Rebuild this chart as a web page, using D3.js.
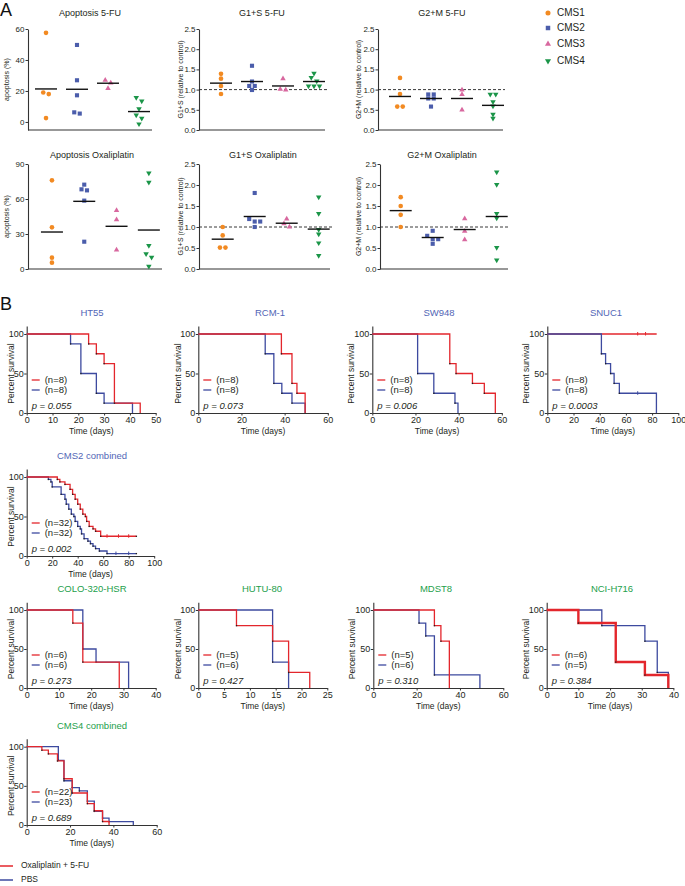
<!DOCTYPE html>
<html><head><meta charset="utf-8">
<script src="https://cdn.jsdelivr.net/npm/d3@7"></script>
<style>
body{margin:0;background:#fff;}
svg{display:block;font-family:"Liberation Sans",Arial,sans-serif;}
</style></head><body>
<svg id="c" width="685" height="886"></svg>
<script>
// ================= DATA : panel A =================
const groups = ["CMS1","CMS2","CMS3","CMS4"];
const apop5FU      = [[57.5,19,18,2.5],[49.7,26.9,17.2,5.4,6.2],[26.9,21.7,25.2],[15.7,13.5,8.4,4.5,2.4,-1.3]];
const apop5FUMean  = [21.3,21.1,25,6.7];
const g1s5FU       = [[1.39,1.27,1.09,0.89],[1.59,1.2,1.09,1.09,0.99],[1.27,1.01,0.99],[1.40,1.30,1.21,1.09,1.09,1.09]];
const g1s5FUMean   = [1.16,1.2,1.09,1.2];
const g2m5FU       = [[1.29,0.89,0.58,0.58],[0.88,0.78,0.78,0.88,0.58],[0.99,0.88,0.50],[0.88,0.88,0.70,0.59,0.39,0.29]];
const g2m5FUMean   = [0.83,0.78,0.78,0.61];
const apopOx       = [[76,35.7,9.7,5.4],[72.3,67.4,68.3,58.6,23.4],[50.3,42.3,16.3],[82.3,74.3,20,12.9,10,2.3]];
const apopOxMean   = [31.7,58,36.6,33.4];
const g1sOx        = [[1.0,0.80,0.51,0.51],[1.81,1.19,1.13,1.13,1.0],[1.19,1.08,1.0],[1.71,1.32,0.94,0.83,0.62,0.32]];
const g1sOxMean    = [0.71,1.25,1.09,0.95];
const g2mOx        = [[1.71,1.50,1.29,1.0],[0.91,0.79,0.71,0.71,0.6],[1.20,0.90,0.70],[2.31,2.01,1.32,1.21,0.51,0.21]];
const g2mOxMean    = [1.39,0.75,0.94,1.25];
const apop5FUTicks = [0,20,40,60];
const apopOxTicks  = [0,30,60,90];
const ratioTicks   = [0,0.5,1,1.5,2,2.5];

// ================= DATA : panel B (Kaplan-Meier) =================
// t = day of each step, s = percent survival from that day on
const ht55Red_t=[0,24,27,30,34,44],            ht55Red_s=[100,87.5,75,62.5,12.5,0];
const ht55Blue_t=[0,17,21,27,30,41],           ht55Blue_s=[100,87.5,50,25,12.5,0];
const rcmRed_t=[0,38.5,43.4,45.7,49.5],        rcmRed_s=[100,75,37.5,25,0];
const rcmBlue_t=[0,31,35,38.7,43.4,49.5],      rcmBlue_s=[100,75,37.5,25,12.5,0];
const swRed_t=[0,35.9,38.8,46.4,51.9,57],      swRed_s=[100,62.5,50,37.5,25,0];
const swBlue_t=[0,21,28.5,38.3,39.7],          swBlue_s=[100,50,25,12.5,0];
const snucRed_t=[0,83.5],                       snucRed_s=[100,100];
const snucBlue_t=[0,41.3,44.5,48.3,51,55,83.3], snucBlue_s=[100,75,62.5,50,37.5,25,0];
const snucRedCensor=[69,75], snucBlueCensor=[69];
const cms2Red_t=[0,24,26,30,34,36,38,40,42,44,46,47,49,52,54,58,86];
const cms2Red_s=[100,96.9,93.8,90.6,84.4,78.1,71.9,65.6,59.4,53.1,50,43.8,37.5,34.4,31.3,25,25];
const cms2Blue_t=[0,17,19,20,27,30,31,33,35,37,38,40,42,43,45,48,50,52,54,57,63,86];
const cms2Blue_s=[100,96.9,93.8,87.5,78.1,71.9,65.6,59.4,53.1,50,43.8,37.5,34.4,28.1,21.9,18.8,15.6,12.5,9.4,6.3,3.1,3.1];
const cms2RedCensor=[63,72,80], cms2BlueCensor=[70,80];
const coloRed_t=[0,14.3,17.4,28.7],            coloRed_s=[100,83.3,33.3,0];
const coloBlue_t=[0,17.4,21.5,31.6],           coloBlue_s=[100,50,33.3,0];
const hutuRed_t=[0,7.4,14.4,17.5,21.6],        hutuRed_s=[100,80,60,20,0];
const hutuBlue_t=[0,14.4,17.5],                hutuBlue_s=[100,33.3,0];
const mdstRed_t=[0,28.2,31.2,35.1],            mdstRed_s=[100,80,60,0];
const mdstBlue_t=[0,21.1,24.2,28.2,49.2],      mdstBlue_s=[100,83.3,66.7,16.7,0];
const nciRed_t=[0,10,21.8,31,38.4],            nciRed_s=[100,83.3,33.3,16.7,0];
const nciBlue_t=[0,17.4,31,34.9,38.4],         nciBlue_s=[100,80,60,20,0];
const cms4Red_t=[0,7,10,14.2,17.2,21,28,31.2,35,38];
const cms4Red_s=[100,95.5,90.9,81.8,59.1,40.9,27.3,18.2,4.5,0];
const cms4Blue_t=[0,14.6,17.2,21,24.3,28,31.2,35,38,49.2];
const cms4Blue_s=[100,82.6,56.5,47.8,43.5,30.4,17.4,8.7,4.3,0];
const legendLabels=["Oxaliplatin + 5-FU","PBS"];

// ================= STYLE =================
const TXT="#231f20", AX="#333";
const groupColor={CMS1:"#f28a22",CMS2:"#4b5dab",CMS3:"#d8689f",CMS4:"#1b9548"};
const groupSym={CMS1:d3.symbolCircle,CMS2:d3.symbolSquare,CMS3:d3.symbolTriangle,CMS4:d3.symbolTriangle};
const symSize={CMS1:17,CMS2:17,CMS3:13,CMS4:13};
const RED="#e3262c", BLUE="#3d4a9f", TBLUE="#5266b6", TGREEN="#23a04b";

const svg=d3.select("#c");

function styleAxis(g,fs){
  g.select(".domain").attr("stroke",AX).attr("stroke-width",1.1);
  g.selectAll(".tick line").attr("stroke",AX).attr("stroke-width",1);
  g.selectAll(".tick text").attr("fill",TXT).attr("font-size",fs).attr("font-family","Liberation Sans, Arial, sans-serif");
}

function swarm(vals,y,spacing,thr){
  const items=vals.map((v,i)=>({v,py:y(v)})).sort((a,b)=>a.py-b.py);
  const clusters=[];let cur=null;
  for(const it of items){
    if(cur && it.py-cur[0].py<thr) cur.push(it); else {cur=[it];clusters.push(cur);}
  }
  clusters.forEach(c=>c.forEach((it,k)=>it.dx=(k-(c.length-1)/2)*spacing));
  return items;
}

function scatterPanel(p){
  const y=d3.scaleLinear().domain(p.domain).range([p.yBot,p.yTop]);
  const x=d3.scalePoint().domain(groups).range(p.catRange).padding(0.5);
  const g=svg.append("g");
  const ax=g.append("g").attr("transform",`translate(${p.x0},0)`)
    .call(d3.axisLeft(y).tickValues(p.ticks).tickFormat(p.fmt).tickSize(2.5).tickSizeOuter(0).tickPadding(1));
  styleAxis(ax,"8px");
  g.append("line").attr("x1",p.x0).attr("x2",p.x1).attr("y1",p.yBot).attr("y2",p.yBot)
    .attr("stroke",AX).attr("stroke-width",1.1);
  g.append("text").attr("x",p.titleX).attr("y",p.titleY).attr("text-anchor","middle")
    .attr("font-size","9px").attr("fill",TXT).text(p.title);
  g.append("text").attr("transform",`translate(${p.ylabX},${(p.yBot+p.yTop)/2}) rotate(-90)`)
    .attr("text-anchor","middle").attr("dominant-baseline","middle").attr("font-size","7px").attr("fill",TXT).text(p.ylabel);
  if(p.dashed!==undefined){
    g.append("line").attr("x1",p.x0).attr("x2",p.x1+2).attr("y1",y(p.dashed)).attr("y2",y(p.dashed))
      .attr("stroke","#222").attr("stroke-width",0.9).attr("stroke-dasharray","3,2");
  }
  groups.forEach((grp,gi)=>{
    const cx=x(grp);
    const pts=swarm(p.data[gi],y,5.5,4);
    const sym=d3.symbol().type(groupSym[grp]).size(symSize[grp]);
    g.selectAll(null).data(pts).enter().append("path")
      .attr("d",sym)
      .attr("transform",d=>`translate(${cx+d.dx},${d.py})`+(grp==="CMS4"?" rotate(180)":""))
      .attr("fill",groupColor[grp]);
    g.append("line").attr("x1",cx-11).attr("x2",cx+11).attr("y1",y(p.means[gi])).attr("y2",y(p.means[gi]))
      .attr("stroke","#111").attr("stroke-width",1.4);
  });
}

// Row 1
scatterPanel({x0:28,x1:152,yTop:29,yBot:130,domain:[-5.2,60],ticks:apop5FUTicks,fmt:d3.format("d"),
  catRange:[30.5,154.5],title:"Apoptosis 5-FU",titleX:90,titleY:16,ylabel:"apoptosis (%)",ylabX:7,
  data:apop5FU,means:apop5FUMean});
scatterPanel({x0:199,x1:325,yTop:29,yBot:130,domain:[0,2.5],ticks:ratioTicks,fmt:d3.format(".1f"),
  catRange:[205.5,329.5],title:"G1+S 5-FU",titleX:262,titleY:16,ylabel:"G1+S (relative to control)",ylabX:181,
  data:g1s5FU,means:g1s5FUMean,dashed:1});
scatterPanel({x0:378,x1:503,yTop:29,yBot:130,domain:[0,2.5],ticks:ratioTicks,fmt:d3.format(".1f"),
  catRange:[384.5,508.5],title:"G2+M 5-FU",titleX:442,titleY:16,ylabel:"G2+M (relative to control)",ylabX:359,
  data:g2m5FU,means:g2m5FUMean,dashed:1});
// Row 2
scatterPanel({x0:28,x1:162,yTop:164,yBot:269,domain:[0,90],ticks:apopOxTicks,fmt:d3.format("d"),
  catRange:[35.8,165],title:"Apoptosis Oxaliplatin",titleX:92,titleY:158,ylabel:"apoptosis (%)",ylabX:7,
  data:apopOx,means:apopOxMean});
scatterPanel({x0:199,x1:330,yTop:164,yBot:269,domain:[0,2.5],ticks:ratioTicks,fmt:d3.format(".1f"),
  catRange:[206.7,334.7],title:"G1+S Oxaliplatin",titleX:263,titleY:158,ylabel:"G1+S (relative to control)",ylabX:181,
  data:g1sOx,means:g1sOxMean,dashed:1});
scatterPanel({x0:380,x1:508,yTop:164,yBot:269,domain:[0,2.5],ticks:ratioTicks,fmt:d3.format(".1f"),
  catRange:[384.7,512.7],title:"G2+M Oxaliplatin",titleX:442,titleY:158,ylabel:"G2+M (relative to control)",ylabX:359,
  data:g2mOx,means:g2mOxMean,dashed:1});

// Legend A
const legA=svg.append("g");
groups.forEach((grp,i)=>{
  const yy=[13,28,44,61][i];
  legA.append("path").attr("d",d3.symbol().type(groupSym[grp]).size(symSize[grp]+3))
    .attr("transform",`translate(548,${yy})`+(grp==="CMS4"?" rotate(180)":"")).attr("fill",groupColor[grp]);
  legA.append("text").attr("x",557).attr("y",yy).attr("dominant-baseline","middle")
    .attr("font-size","10px").attr("fill",TXT).text(grp);
});

svg.append("text").attr("x",0).attr("y",16).attr("font-size","18px").attr("fill","#111").text("A");
svg.append("text").attr("x",0).attr("y",310).attr("font-size","18px").attr("fill","#111").text("B");

// ================= KM panels =================
function kmPanel(p){
  const h=p.yBot-p.y100;
  const x=d3.scaleLinear().domain([0,p.xmax]).range([p.x0,p.x0+p.w]);
  const y=d3.scaleLinear().domain([0,110]).range([p.yBot,p.yBot-1.1*h]);
  const g=svg.append("g");
  const ay=g.append("g").attr("transform",`translate(${p.x0},0)`)
    .call(d3.axisLeft(y).tickValues([0,50,100]).tickSize(2.5).tickSizeOuter(0).tickPadding(0.5));
  styleAxis(ay,"9px");
  const axx=g.append("g").attr("transform",`translate(0,${p.yBot})`)
    .call(d3.axisBottom(x).tickValues(p.xticks).tickSize(2.5).tickSizeOuter(0).tickPadding(1));
  styleAxis(axx,"9px");
  g.append("text").attr("x",p.titleX).attr("y",p.yBot-1.1*h-10).attr("text-anchor","middle")
    .attr("font-size","9.5px").attr("fill",p.titleColor).text(p.title);
  g.append("text").attr("transform",`translate(${p.ylabX},${p.yBot-0.5*h}) rotate(-90)`)
    .attr("text-anchor","middle").attr("dominant-baseline","middle").attr("font-size","8.5px").attr("fill",TXT).text("Percent survival");
  g.append("text").attr("x",p.x0+0.5*p.w).attr("y",p.yBot+21).attr("text-anchor","middle")
    .attr("font-size","8.5px").attr("fill",TXT).text("Time (days)");
  const line=d3.line().x(d=>x(d[0])).y(d=>y(d[1])).curve(d3.curveStepAfter);
  const curves=[
    {t:p.red_t,s:p.red_s,c:RED,w:p.redW||1.3,cens:p.redCens},
    {t:p.blue_t,s:p.blue_s,c:BLUE,w:1.3,cens:p.blueCens}];
  const order=p.blueOnTop?[0,1]:[1,0];
  order.forEach(i=>{
    const cv=curves[i];
    const pts=cv.t.map((t,k)=>[t,cv.s[k]]);
    g.append("path").attr("d",line(pts)).attr("fill","none").attr("stroke",cv.c).attr("stroke-width",cv.w);
    pts.slice(1).forEach(d=>{ if(d[1]>0 && d[1]<100)
      g.append("rect").attr("x",x(d[0])-0.6).attr("y",y(d[1])-0.6).attr("width",1.3).attr("height",1.3).attr("fill","#222");});
    (cv.cens||[]).forEach(t=>{
      const s=cv.s[d3.bisectRight(cv.t,t)-1];
      g.append("line").attr("x1",x(t)).attr("x2",x(t)).attr("y1",y(s)-2).attr("y2",y(s)+1.5)
        .attr("stroke",cv.c).attr("stroke-width",1);
    });
  });
  [[RED,p.nRed,-33],[BLUE,p.nBlue,-23]].forEach(([c,n,dy])=>{
    g.append("line").attr("x1",p.x0+5).attr("x2",p.x0+13).attr("y1",p.yBot+dy).attr("y2",p.yBot+dy)
      .attr("stroke",c).attr("stroke-width",1.3);
    g.append("text").attr("x",p.x0+18).attr("y",p.yBot+dy).attr("dominant-baseline","middle")
      .attr("font-size","9.5px").attr("fill",TXT).text(`(n=${n})`);
  });
  g.append("text").attr("x",p.x0+5).attr("y",p.yBot-4).attr("font-size","9.5px").attr("font-style","italic")
    .attr("fill",TXT).text(`p = ${p.pval}`);
}

const t10=[0,10,20,30,40,50], t20_60=[0,20,40,60], t20_100=[0,20,40,60,80,100], t10_40=[0,10,20,30,40], t5_25=[0,5,10,15,20,25];
kmPanel({x0:26.7,w:129,xmax:50,xticks:t10,yBot:413,y100:334,title:"HT55",titleX:92,titleColor:TBLUE,ylabX:12,
  red_t:ht55Red_t,red_s:ht55Red_s,blue_t:ht55Blue_t,blue_s:ht55Blue_s,nRed:8,nBlue:8,pval:"0.055"});
kmPanel({x0:198.3,w:129.5,xmax:60,xticks:t20_60,yBot:413,y100:334,title:"RCM-1",titleX:270,titleColor:TBLUE,ylabX:179,
  red_t:rcmRed_t,red_s:rcmRed_s,blue_t:rcmBlue_t,blue_s:rcmBlue_s,nRed:8,nBlue:8,pval:"0.073"});
kmPanel({x0:372.3,w:129.5,xmax:60,xticks:t20_60,yBot:413,y100:334,title:"SW948",titleX:439,titleColor:TBLUE,ylabX:352,
  red_t:swRed_t,red_s:swRed_s,blue_t:swBlue_t,blue_s:swBlue_s,nRed:8,nBlue:8,pval:"0.006"});
kmPanel({x0:547.3,w:131,xmax:100,xticks:t20_100,yBot:413,y100:334,title:"SNUC1",titleX:606,titleColor:TBLUE,ylabX:527,
  red_t:snucRed_t,red_s:snucRed_s,blue_t:snucBlue_t,blue_s:snucBlue_s,redCens:snucRedCensor,blueCens:snucBlueCensor,
  blueOnTop:true,nRed:8,nBlue:8,pval:"0.0003"});
kmPanel({x0:26.7,w:127.5,xmax:100,xticks:t20_100,yBot:556,y100:477,title:"CMS2 combined",titleX:92,titleColor:TBLUE,ylabX:12,
  red_t:cms2Red_t,red_s:cms2Red_s,blue_t:cms2Blue_t,blue_s:cms2Blue_s,redCens:cms2RedCensor,blueCens:cms2BlueCensor,
  nRed:32,nBlue:32,pval:"0.002"});
kmPanel({x0:26.7,w:129,xmax:40,xticks:t10_40,yBot:688,y100:610,title:"COLO-320-HSR",titleX:92,titleColor:TGREEN,ylabX:12,
  red_t:coloRed_t,red_s:coloRed_s,blue_t:coloBlue_t,blue_s:coloBlue_s,nRed:6,nBlue:6,pval:"0.273"});
kmPanel({x0:198.3,w:129,xmax:25,xticks:t5_25,yBot:688,y100:610,title:"HUTU-80",titleX:262,titleColor:TGREEN,ylabX:179,
  red_t:hutuRed_t,red_s:hutuRed_s,blue_t:hutuBlue_t,blue_s:hutuBlue_s,nRed:5,nBlue:6,pval:"0.427"});
kmPanel({x0:373.3,w:130,xmax:60,xticks:t20_60,yBot:688,y100:610,title:"MDST8",titleX:436,titleColor:TGREEN,ylabX:353,
  red_t:mdstRed_t,red_s:mdstRed_s,blue_t:mdstBlue_t,blue_s:mdstBlue_s,nRed:5,nBlue:6,pval:"0.310"});
kmPanel({x0:546.7,w:126.7,xmax:40,xticks:t10_40,yBot:688,y100:610,title:"NCI-H716",titleX:612,titleColor:TGREEN,ylabX:527,
  red_t:nciRed_t,red_s:nciRed_s,blue_t:nciBlue_t,blue_s:nciBlue_s,redW:2.4,nRed:6,nBlue:5,pval:"0.384"});
kmPanel({x0:26.7,w:130,xmax:60,xticks:t20_60,yBot:825,y100:746.7,title:"CMS4 combined",titleX:92,titleColor:TGREEN,ylabX:12,
  red_t:cms4Red_t,red_s:cms4Red_s,blue_t:cms4Blue_t,blue_s:cms4Blue_s,nRed:22,nBlue:23,pval:"0.689"});

// Bottom legend
[[RED,legendLabels[0],866],[BLUE,legendLabels[1],880]].forEach(([c,lab,yy])=>{
  svg.append("line").attr("x1",0).attr("x2",13).attr("y1",yy).attr("y2",yy).attr("stroke",c).attr("stroke-width",1.5);
  svg.append("text").attr("x",21).attr("y",yy).attr("dominant-baseline","middle").attr("font-size","8.5px").attr("fill",TXT).text(lab);
});
</script>
</body></html>
